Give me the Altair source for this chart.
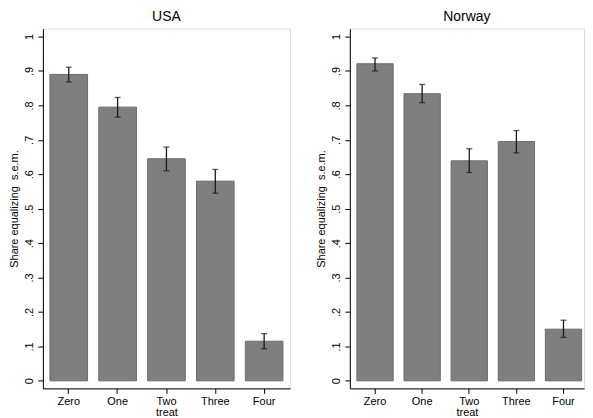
import altair as alt
import pandas as pd

categories = ["Zero", "One", "Two", "Three", "Four"]
usa_share = [0.890, 0.795, 0.645, 0.580, 0.115]
usa_lo = [0.868, 0.766, 0.610, 0.545, 0.093]
usa_hi = [0.911, 0.823, 0.679, 0.614, 0.137]
nor_share = [0.921, 0.834, 0.639, 0.695, 0.150]
nor_lo = [0.900, 0.808, 0.605, 0.662, 0.126]
nor_hi = [0.938, 0.861, 0.674, 0.727, 0.176]
y_ticks = [0, 0.1, 0.2, 0.3, 0.4, 0.5, 0.6, 0.7, 0.8, 0.9, 1.0]

FONT = "Liberation Sans"
LABEL_EXPR = ("datum.value == 0 ? '0' : (datum.value >= 0.999 ? '1' : "
              "replace(format(datum.value, '.1f'), '0.', '.'))")


def panel(title, share, lo, hi, width, pad_outer, align):
    df = pd.DataFrame({"treat": categories, "share": share, "lo": lo, "hi": hi})
    xscale = alt.Scale(paddingInner=0.23, paddingOuter=pad_outer, align=align)
    x = alt.X(
        "treat:N",
        sort=categories,
        title="treat",
        scale=xscale,
        axis=alt.Axis(
            labelAngle=0, tickSize=5, tickColor="#000000", domainColor="#000000",
            labelFontSize=11, labelFont=FONT, labelColor="#000000", labelPadding=2,
            titleFontSize=11, titleFont=FONT, titleFontWeight="normal",
            titleColor="#000000", titlePadding=0, grid=False,
        ),
    )
    yscale = alt.Scale(domain=[-0.022, 1.023], nice=False, zero=False)
    yaxis = alt.Axis(
        values=y_ticks, tickSize=5, tickColor="#000000", domainColor="#000000",
        labelAngle=270, labelAlign="center", labelBaseline="bottom",
        labelOverlap=False, labelBound=False, labelFlush=False,
        labelExpr=LABEL_EXPR,
        labelFontSize=11, labelFont=FONT, labelColor="#000000", labelPadding=3,
        titleFontSize=11, titleFont=FONT, titleFontWeight="normal",
        titleColor="#000000", titlePadding=4, grid=False,
    )
    ytitle = "Share equalizing\u00a0 s.e.m."
    base = alt.Chart(df)
    bars = base.mark_bar(color="#7f7f7f", stroke="#6a6a6a", strokeWidth=1).encode(
        x=x,
        y=alt.Y("share:Q", scale=yscale, axis=yaxis, title=ytitle),
        y2=alt.datum(0),
    )
    xs = alt.X("treat:N", sort=categories, scale=xscale, title="treat")
    rule = base.mark_rule(color="#1a1a1a", strokeWidth=1.3).encode(
        x=xs,
        y=alt.Y("lo:Q", scale=yscale, axis=yaxis, title=ytitle),
        y2="hi:Q",
    )
    cap_lo = base.mark_tick(color="#1a1a1a", orient="horizontal", size=6, thickness=1.3).encode(
        x=xs, y=alt.Y("lo:Q", scale=yscale, axis=yaxis, title=ytitle))
    cap_hi = base.mark_tick(color="#1a1a1a", orient="horizontal", size=6, thickness=1.3).encode(
        x=xs, y=alt.Y("hi:Q", scale=yscale, axis=yaxis, title=ytitle))
    return alt.layer(bars, rule, cap_lo, cap_hi).properties(
        width=width, height=361,
        title=alt.TitleParams(title, fontSize=14, font=FONT, fontWeight="normal",
                              color="#000000", anchor="middle", offset=5),
    )


chart = alt.hconcat(
    panel("USA", usa_share, usa_lo, usa_hi, 248, 0.145, 0.5),
    panel("Norway", nor_share, nor_lo, nor_hi, 235, 0.1, 0.75),
    spacing=24,
).properties(padding=0).configure_view(
    stroke="#444444", strokeWidth=1
).configure_axis(labelOverlap=False).configure_axisY(labelOverlap=False).configure(background="white")

chart.save("out.html", embed_options={"renderer": "svg", "actions": False})
